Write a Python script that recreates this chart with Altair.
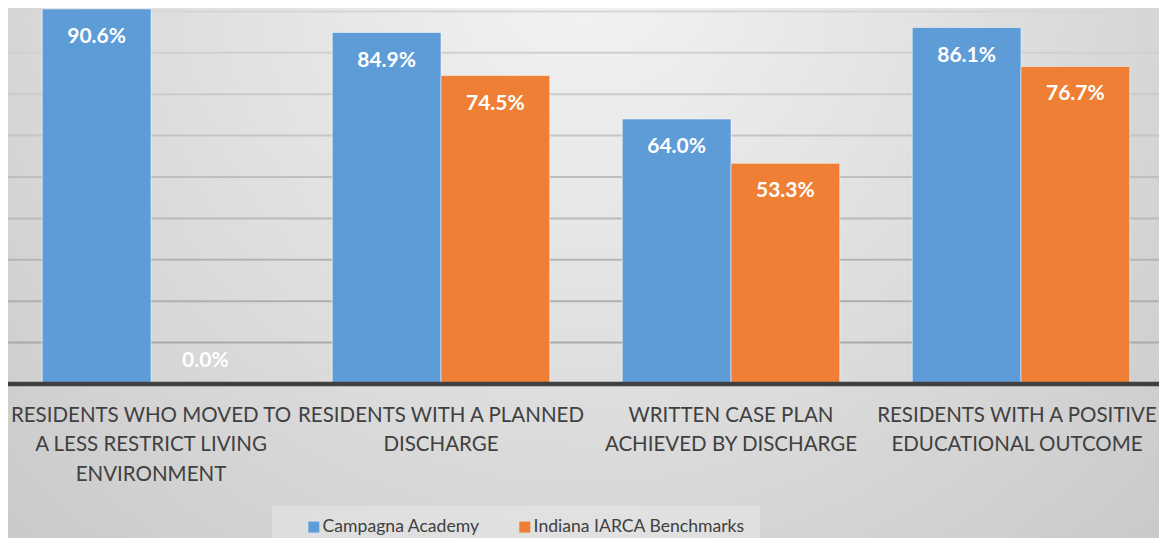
import altair as alt
import pandas as pd

categories = [
    "RESIDENTS WHO MOVED TO\nA LESS RESTRICT LIVING\nENVIRONMENT",
    "RESIDENTS WITH A PLANNED\nDISCHARGE",
    "WRITTEN CASE PLAN\nACHIEVED BY DISCHARGE",
    "RESIDENTS WITH A POSITIVE\nEDUCATIONAL OUTCOME",
]
series = ["Campagna Academy", "Indiana IARCA Benchmarks"]
campagna = [90.6, 84.9, 64.0, 86.1]
iarca = [0.0, 74.5, 53.3, 76.7]
grid_values = [10, 20, 30, 40, 50, 60, 70, 80, 90]

colors = ["#5E9CD7", "#EE7F35"]
FONT = "Lato"
W, H = 1151, 376

rows = []
for i, c in enumerate(categories):
    rows.append({"category": c, "series": series[0], "value": campagna[i]})
    rows.append({"category": c, "series": series[1], "value": iarca[i]})
df = pd.DataFrame(rows)
grid_df = pd.DataFrame({"v": grid_values})
one = pd.DataFrame({"a": [0]})

ydom = [0, 90.82]
yscale = alt.Scale(domain=ydom, nice=False, zero=False)

bg = alt.Chart(one).mark_rect(
    fill={
        "gradient": "radial",
        "x1": 0.5, "y1": 0, "r1": 0,
        "x2": 0.5, "y2": 0, "r2": 1,
        "stops": [
            {"offset": 0, "color": "#f4f4f4"},
            {"offset": 0.71, "color": "#c9c9c9"},
            {"offset": 1, "color": "#b8b8b8"},
        ],
    }
).encode(x=alt.value(-8), x2=alt.value(1159), y=alt.value(-8), y2=alt.value(1084))

legend_box = alt.Chart(one).mark_rect(fill="white", opacity=0.25).encode(
    x=alt.value(264), x2=alt.value(752), y=alt.value(498), y2=alt.value(560)
)

grid = alt.Chart(grid_df).mark_rule(strokeWidth=2).encode(
    y=alt.Y("v:Q", scale=yscale, axis=None),
    x=alt.value(-1),
    x2=alt.value(1159),
    stroke=alt.Stroke("v:Q", scale=alt.Scale(domain=[10, 90], range=["#a9a9a9", "#d6d6d6"]), legend=None),
)

xenc = alt.X(
    "category:N",
    sort=categories,
    scale=alt.Scale(range=[-2, 1158], paddingInner=0.25, paddingOuter=0.125),
    axis=alt.Axis(
        title=None, ticks=False, domain=False, labelAngle=0,
        labelExpr="split(datum.label, '\\n')",
        labelFont=FONT, labelFontSize=20.5, labelColor="#404040",
        labelLineHeight=29.7, labelPadding=21, labelLimit=400,
        labelOverlap=False, labelBaseline="top", zindex=1,
        labelOffset=alt.condition("indexof(datum.value, 'POSITIVE') >= 0", alt.value(-4), alt.value(0)),
    ),
)
xoff = alt.XOffset("series:N", sort=series, scale=alt.Scale(paddingInner=0, paddingOuter=0))

bars = alt.Chart(df).mark_bar(stroke="white", strokeOpacity=0.5, strokeWidth=1).encode(
    x=xenc,
    xOffset=xoff,
    y=alt.Y("value:Q", scale=yscale, axis=None),
    color=alt.Color(
        "series:N",
        sort=series,
        scale=alt.Scale(domain=series, range=colors),
        legend=alt.Legend(
            title=None, orient="none", legendX=297, legendY=510,
            direction="horizontal", symbolType="square", symbolSize=121,
            symbolStrokeWidth=0, labelFont=FONT, labelFontSize=17.6,
            labelColor="#404040", labelOffset=0, columnPadding=36,
            labelLimit=400, padding=0, zindex=1,
        ),
    ),
)

labels_base = alt.Chart(df).transform_calculate(
    label="format(datum.value, '.1f') + '%'"
)
labels_in = labels_base.transform_filter("datum.value > 0").mark_text(
    font=FONT, fontSize=21, fontWeight="bold", color="white", baseline="alphabetic", dy=34
).encode(x=alt.X("category:N", sort=categories), xOffset=xoff,
         y=alt.Y("value:Q", scale=yscale), text="label:N")
labels_zero = labels_base.transform_filter("datum.value <= 0").mark_text(
    font=FONT, fontSize=21, fontWeight="bold", color="white", baseline="alphabetic", dy=-17
).encode(x=alt.X("category:N", sort=categories), xOffset=xoff,
         y=alt.Y("value:Q", scale=yscale), text="label:N")

axis_line = alt.Chart(one).mark_rule(color="#404040", strokeWidth=4.5).encode(
    y=alt.datum(0, scale=yscale), x=alt.value(-1), x2=alt.value(1159)
)

chart = alt.layer(bg, legend_box, grid, bars, labels_in, labels_zero, axis_line).properties(
    width=W, height=H,
    autosize=alt.AutoSizeParams(type="none"),
    padding={"left": 0, "top": 0, "right": 0, "bottom": 154},
).configure(background="#dcdcdc").configure_view(stroke=None)

chart.save("out.html", embed_options={"renderer": "svg", "actions": False})
